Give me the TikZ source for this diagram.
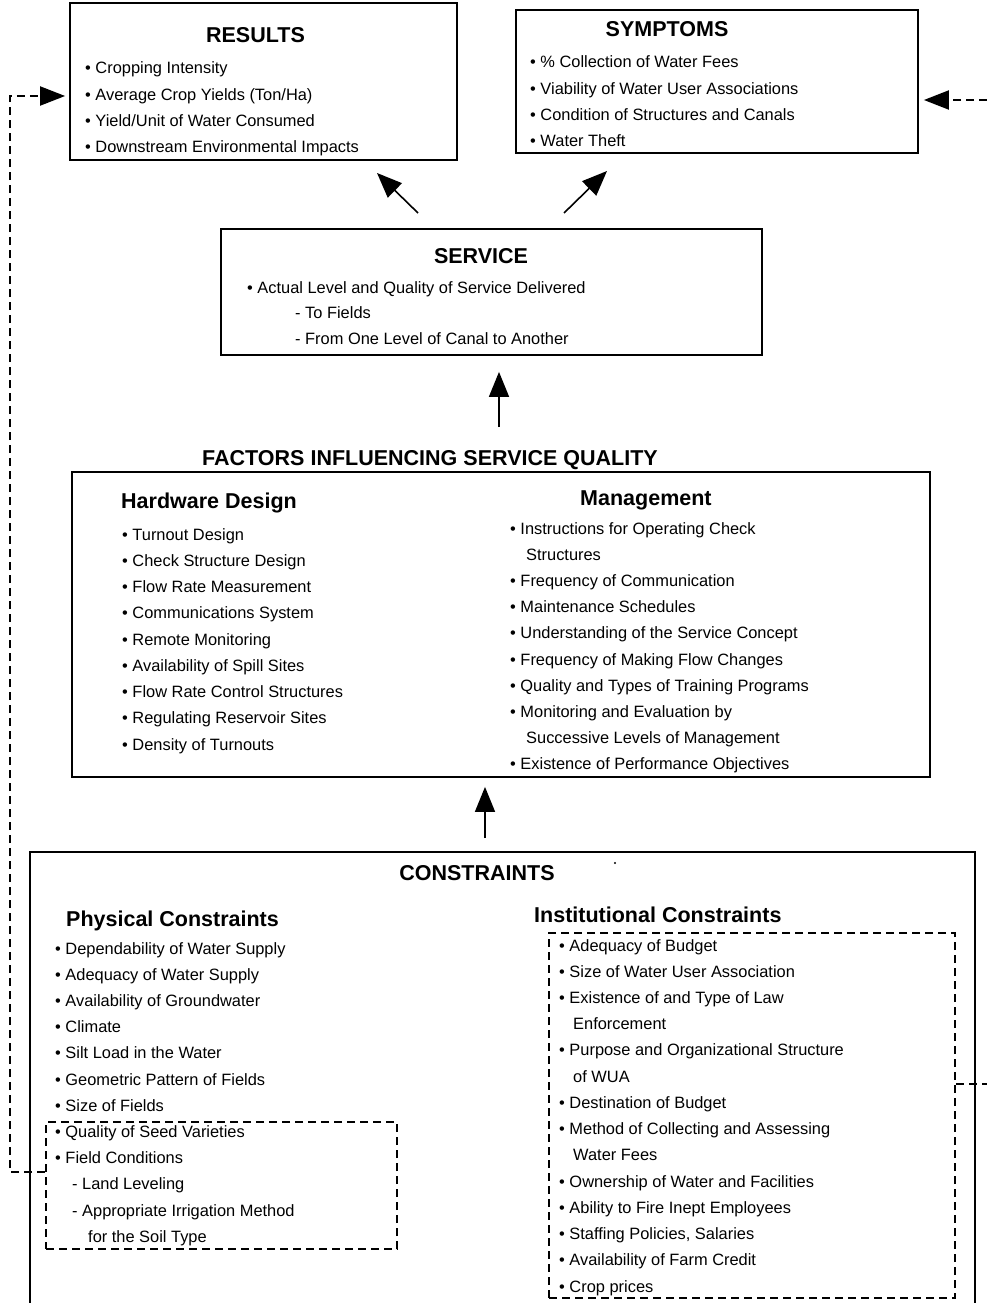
\documentclass[tikz,border=0pt]{standalone}
\usepackage{fontspec}
\setmainfont{Liberation Sans}
\usetikzlibrary{arrows.meta}
\newcommand\bul{\textbullet\ }
\newcommand\indA[1]{\hspace*{#1pt}}
\tikzset{
  box/.style={draw, line width=1.8pt, inner sep=0pt},
  dbox/.style={draw, line width=2pt, dash pattern=on 8pt off 5pt, inner sep=0pt},
  arr/.style={line width=1.6pt, -{Triangle[length=25pt,width=20pt]}},
  darr/.style={line width=2pt, dash pattern=on 8pt off 5pt, -{Triangle[length=25pt,width=19pt]}},
  dline/.style={line width=2pt, dash pattern=on 8pt off 5pt},
  txt/.style={anchor=base west, inner sep=0pt, font=\fontsize{16.4}{16.4}\selectfont},
  ttl/.style={anchor=base, inner sep=0pt, font=\fontsize{21.5}{21.5}\selectfont\bfseries},
  ttlw/.style={ttl, anchor=base west},
}
\begin{document}
\begin{tikzpicture}[x=1pt,y=-1pt]
\useasboundingbox[fill=white] (0,0) rectangle (987,1303);

% ---------- boxes ----------
\node[box, minimum width=387pt, minimum height=157pt] (results) at (263.5,81.5) {};
\node[box, minimum width=402pt, minimum height=143pt] (symptoms) at (717,81.5) {};
\node[box, minimum width=541pt, minimum height=126pt] (service) at (491.5,292) {};
\node[box, minimum width=858pt, minimum height=305pt] (factors) at (501,624.5) {};
\node[dbox, minimum width=351pt, minimum height=127pt] (physdash) at (221.5,1185.5) {};
\node[dbox, minimum width=406pt, minimum height=365pt] (instdash) at (752,1115.5) {};
\coordinate (consTL) at (30,852);
\coordinate (consTR) at (975,852);
\draw[line width=1.8pt] (30,1303) -- (consTL) -- (consTR) -- (975,1303);

% ---------- titles ----------
\node[ttl] (tRes) at (255.5,43) {RESULTS};
\node[ttl] (tSym) at (667,37) {SYMPTOMS};
\node[ttl] (tSer) at (481,263) {SERVICE};
\node[ttl] (tFac) at (430,465) {FACTORS INFLUENCING SERVICE QUALITY};
\node[ttlw] (tHw) at (121,508) {Hardware Design};
\node[ttlw] (tMg) at (580,505) {Management};
\node[ttl] (tCon) at (477,880) {CONSTRAINTS};
\node[ttlw] (tPhy) at (66,926) {Physical Constraints};
\node[ttlw] (tIns) at (534,922) {Institutional Constraints};

% ---------- lists ----------
\foreach \t [count=\i] in {Cropping Intensity, Average Crop Yields (Ton/Ha), Yield/Unit of Water Consumed, Downstream Environmental Impacts}
  \node[txt] (res\i) at (85,{74+(\i-1)*26.3}) {\bul\t};

\foreach \t [count=\i] in {\% Collection of Water Fees, Viability of Water User Associations, Condition of Structures and Canals, Water Theft}
  \node[txt] (sym\i) at (530,{68+(\i-1)*26.3}) {\bul\t};

\node[txt] (ser1) at (247,293) {\bul Actual Level and Quality of Service Delivered};
\node[txt] (ser2) at (295,318) {- To Fields};
\node[txt] (ser3) at (295,344) {- From One Level of Canal to Another};

\foreach \t [count=\i] in {Turnout Design, Check Structure Design, Flow Rate Measurement, Communications System, Remote Monitoring, Availability of Spill Sites, Flow Rate Control Structures, Regulating Reservoir Sites, Density of Turnouts}
  \node[txt] (hw\i) at (122,{540+(\i-1)*26.25}) {\bul\t};

\foreach \t [count=\i] in {{\bul Instructions for Operating Check}, {\indA{16}Structures}, {\bul Frequency of Communication}, {\bul Maintenance Schedules}, {\bul Understanding of the Service Concept}, {\bul Frequency of Making Flow Changes}, {\bul Quality and Types of Training Programs}, {\bul Monitoring and Evaluation by}, {\indA{16}Successive Levels of Management}, {\bul Existence of Performance Objectives}}
  \node[txt] (mg\i) at (510,{534+(\i-1)*26.2}) {\t};

\foreach \t [count=\i] in {{\bul Dependability of Water Supply}, {\bul Adequacy of Water Supply}, {\bul Availability of Groundwater}, {\bul Climate}, {\bul Silt Load in the Water}, {\bul Geometric Pattern of Fields}, {\bul Size of Fields}, {\bul Quality of Seed Varieties}, {\bul Field Conditions}, {\indA{17}- Land Leveling}, {\indA{17}- Appropriate Irrigation Method}, {\indA{33}for the Soil Type}}
  \node[txt] (phy\i) at (55,{954+(\i-1)*26.2}) {\t};

\foreach \t [count=\i] in {{\bul Adequacy of Budget}, {\bul Size of Water User Association}, {\bul Existence of and Type of Law}, {\indA{14}Enforcement}, {\bul Purpose and Organizational Structure}, {\indA{14}of WUA}, {\bul Destination of Budget}, {\bul Method of Collecting and Assessing}, {\indA{14}Water Fees}, {\bul Ownership of Water and Facilities}, {\bul Ability to Fire Inept Employees}, {\bul Staffing Policies, Salaries}, {\bul Availability of Farm Credit}, {\bul Crop prices}}
  \node[txt] (ins\i) at (559,{951+(\i-1)*26.23}) {\t};

% stray dot
\fill (615,863) circle (1.1pt);

% ---------- connectors ----------
\coordinate (cUp) at (485,838);
\draw[arr, shorten >=9pt] (cUp) -- (factors.south -| cUp);
\coordinate (sUp) at (499,427);
\draw[arr, shorten >=16pt] (sUp) -- (service.south -| sUp);
\coordinate (rA) at (418,213);
\coordinate (rB) at (377,173);
\draw[arr] (rA) -- (rB);
\coordinate (yA) at (564,213);
\coordinate (yB) at (607,171);
\draw[arr] (yA) -- (yB);

% dashed feedback lines
\coordinate (L1) at (10,1172);
\coordinate (L2) at (10,96);
\draw[darr, shorten >=4pt] (physdash.west |- L1) -- (L1) -- (L2) -- (results.west |- L2);
\coordinate (R1) at (987,1084);
\draw[dline] (instdash.east |- R1) -- (R1);
\coordinate (R2) at (987,100);
\draw[darr, shorten >=5pt] (R2) -- (symptoms.east |- R2);
\end{tikzpicture}
\end{document}
